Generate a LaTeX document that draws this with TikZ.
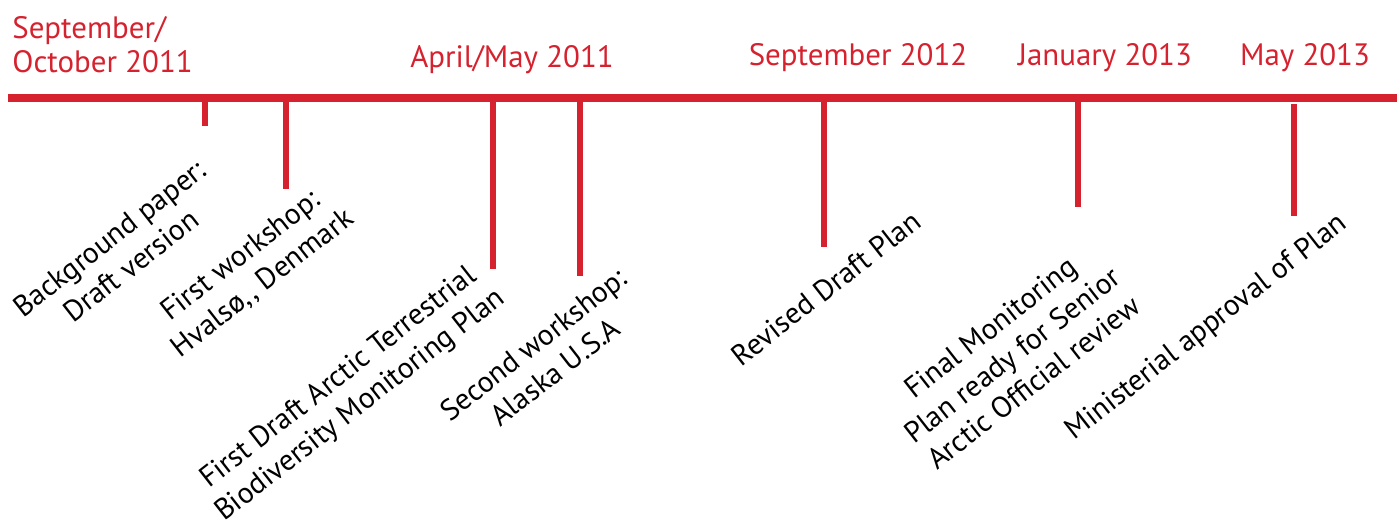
\documentclass[tikz,border=0pt]{standalone}
\usepackage{fontspec}
\setmainfont{PT Sans}
\usepackage{tikz}
\definecolor{timered}{RGB}{213, 34, 46}
\usetikzlibrary{positioning, calc}

\begin{document}
\begin{tikzpicture}[
    x=0.02cm, y=-0.02cm,
    date/.style={text=timered, font=\fontsize{17.6}{19.5}\selectfont, inner sep=0pt},
    event/.style={rotate=38, align=center, inner sep=0pt, font=\fontsize{16.8}{20}\selectfont},
    tick/.style={draw=timered, line width=7*0.567pt}
]
    \useasboundingbox (0,0) rectangle (1397,520);

    % Main time line
    \coordinate (start) at (8,98);
    \coordinate (stop) at (1397,98);
    \draw[timered, line width=8*0.567pt] (start) -- (stop);

    % Dates
    \node[date, align=left, anchor=north west] (d1) at (12,16) {September/\\October 2011};
    \node[date] (d2) at (512,60) {April/May 2011};
    \node[date] (d3) at (858,58) {September 2012};
    \node[date] (d4) at (1105,58) {January 2013};
    \node[date] (d5) at (1305,58) {May 2013};

    % Ticks
    \coordinate (t1) at (205,98);  \coordinate (b1) at (205,126);
    \coordinate (t2) at (286,98);  \coordinate (b2) at (286,189);
    \coordinate (t3) at (493,98);  \coordinate (b3) at (493,269);
    \coordinate (t4) at (580,98);  \coordinate (b4) at (580,276);
    \coordinate (t5) at (824,98);  \coordinate (b5) at (824,247);
    \coordinate (t6) at (1078,98); \coordinate (b6) at (1078,207);
    \coordinate (t7) at (1294,104); \coordinate (b7) at (1294,216);
    \draw[tick] (t1) -- (b1);
    \draw[tick] (t2) -- (b2);
    \draw[tick] (t3) -- (b3);
    \draw[tick] (t4) -- (b4);
    \draw[tick] (t5) -- (b5);
    \draw[tick] (t6) -- (b6);
    \draw[tick] (t7) -- (b7);

    % Events
    \node[event] (e1) at (120,252) {Background paper:\\Draft version};
    \node[event] (e2) at (252,270) {First workshop:\\Hvals\o,{},{} Denmark};
    \node[event] (e3) at (350,392) {First Draft Arctic Terrestrial\\Biodiversity Monitoring Plan};
    \node[event] (e4) at (544,358) {Second workshop:\\Alaska U.S.A};
    \node[event] (e5) at (826,288) {Revised Draft Plan};
    \node[event] (e6) at (1012,355) {Final Monitoring\\Plan ready for Senior\\Arctic Official review};
    \node[event] (e7) at (1207,328) {Ministerial approval of Plan};
\end{tikzpicture}
\end{document}
